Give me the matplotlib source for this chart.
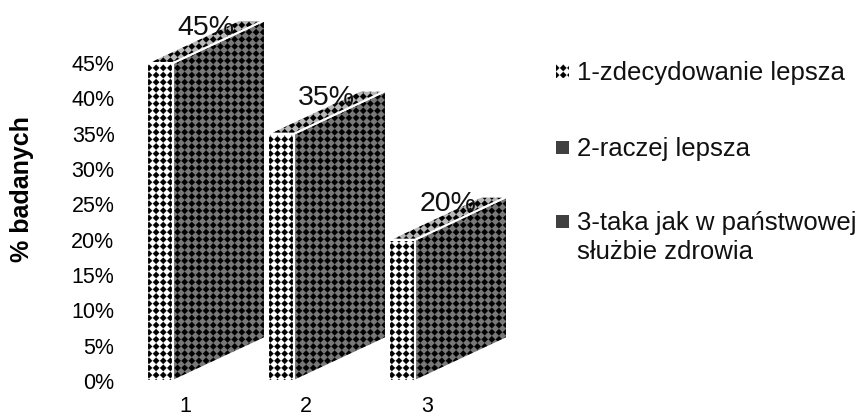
import numpy as np
import matplotlib
matplotlib.use('Agg')
import matplotlib.hatch as mhatch
from matplotlib import pyplot as plt
from matplotlib.patches import Polygon, Rectangle
from matplotlib.path import Path

categories = [1, 2, 3]
values = [45, 35, 20]
y_ticks = [0, 5, 10, 15, 20, 25, 30, 35, 40, 45]
legend_labels = ['1-zdecydowanie lepsza', '2-raczej lepsza', '3-taka jak w państwowej\nsłużbie zdrowia']

plt.rcParams['font.family'] = ['Liberation Sans', 'DejaVu Sans']
plt.rcParams['hatch.linewidth'] = 0.1

W, H = 860, 417


# square grid of small diamonds, the built in hatches are all staggered
class SquareDots(mhatch.HatchPatternBase):
    filled = True
    rows = 14
    radius = 0.033

    def __init__(self, hatch, density):
        self.shape = Path.unit_regular_polygon(4)
        # one extra column so the diamonds wrap round the tile edge
        self.num_vertices = (self.rows * (self.rows + 1) * len(self.shape.vertices)
                             if hatch.count('*') else 0)

    def set_vertices_and_codes(self, vertices, codes):
        n = len(self.shape.vertices)
        i = 0
        for row in range(self.rows):
            for col in range(-1, self.rows):
                center = np.array([col / self.rows + 0.061, row / self.rows + 0.035])
                vertices[i:i + n] = self.shape.vertices * self.radius + center
                codes[i:i + n] = self.shape.codes
                i += n


mhatch._hatch_types = [SquareDots]

fig = plt.figure(figsize=(W / 100, H / 100), dpi=100)

# axes box in pixels: 0% at y=381, 45% at y=63, categories 121 px apart
ax = fig.add_axes([147 / W, (H - 381) / H, 363 / W, 318 / H])
ax.set_xlim(1 - 38 / 121, 1 + (510 - 185) / 121)
ax.set_ylim(0, 45)

# bar shape in data units
left = -38 / 121
right = -12 / 121
dx = 92 / 121
dy = 43 / (318 / 45)


def face(points, color):
    ax.add_patch(Polygon(points, closed=True, facecolor=color, edgecolor='black',
                         hatch='*', lw=0, clip_on=False))
    ax.add_patch(Polygon(points, closed=True, fill=False, edgecolor='white',
                         lw=1.5, clip_on=False))


for c, v in zip(categories, values):
    x0 = c + left
    x1 = c + right
    face([(x0, 0), (x1, 0), (x1, v), (x0, v)], 'white')
    face([(x1, 0), (x1 + dx, dy), (x1 + dx, v + dy), (x1, v)], '#787878')
    face([(x0, v), (x1, v), (x1 + dx, v + dy), (x0 + dx, v + dy)], '#b8b8b8')
    ax.annotate(f'{v}%', (c, v), xytext=(15, 25.5), textcoords='offset points',
                ha='center', va='center', fontsize=20.5, color='#111111',
                annotation_clip=False, zorder=5)

for s in ax.spines.values():
    s.set_visible(False)
ax.set_xticks(categories)
ax.set_yticks(y_ticks)
ax.set_yticklabels([f'{t}%' for t in y_ticks])
ax.tick_params(axis='x', length=0, pad=11, labelsize=15.5)
ax.tick_params(axis='y', length=0, pad=23.4, labelsize=15.5)
ax.patch.set_alpha(0)

fig.text(22 / W, 1 - 189 / H, '% badanych', rotation=90, ha='center', va='center',
         fontsize=18, fontweight='bold')

# legend placed by hand, the marker sits on the first line of the wrapped label
legend_y = [71, 147, 221]
legend_colors = ['white', '#404040', '#404040']
legend_hatch = ['*', None, None]
for label, y, color, h in zip(legend_labels, legend_y, legend_colors, legend_hatch):
    fig.add_artist(Rectangle((556 / W, 1 - (y + 6.5) / H), 13 / W, 13 / H, transform=fig.transFigure,
                             facecolor=color, edgecolor='black' if h else color, hatch=h, lw=0))
    fig.text(577 / W, 1 - (y - 10) / H, label, ha='left', va='top', fontsize=18.5,
             color='#111111', linespacing=1.27)

fig.savefig('out.png', dpi=100)
